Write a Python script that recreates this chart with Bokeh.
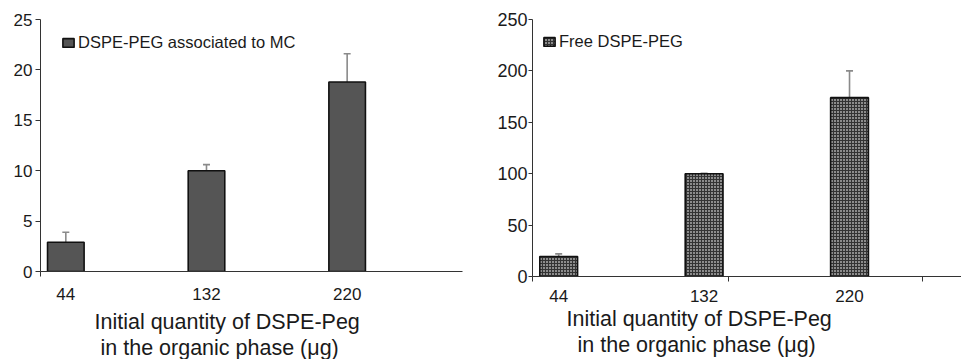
from bokeh.plotting import figure
from bokeh.models import (Range1d, FixedTicker, ColumnDataSource, Whisker, TeeHead,
                          Title, Legend, LegendItem)
from bokeh.layouts import row
from bokeh.embed import file_html
from bokeh.resources import INLINE

# ---- data ----
categories = ["44", "132", "220"]
associated = [2.9, 10.0, 18.8]
associated_err = [1.0, 0.6, 2.8]
free = [19.5, 100.0, 174.0]
free_err = [2.5, 0.5, 26.0]
left_yticks = [0, 5, 10, 15, 20, 25]
right_yticks = [0, 50, 100, 150, 200, 250]
xlabel_1 = "Initial quantity of DSPE-Peg"
xlabel_2 = "in the organic phase  (\u03bcg)"
legend_left = "DSPE-PEG associated to MC"
legend_right = "Free DSPE-PEG"

FONT = "Liberation Sans"
TXT = "#1a1a1a"
AX = "#333333"
H = 359


def make_panel(vals, errs, yticks, legend_text, width, left, right, bottom,
               x_end, minor, style, leg_loc, off1, off2, ytick_size, ystand, ytick_out,
               xstand, spacer):
    xs = list(range(len(categories)))
    p = figure(width=width, height=H, output_backend="svg", toolbar_location=None,
               x_range=Range1d(-0.18, x_end), y_range=Range1d(yticks[0], yticks[-1]),
               min_border_left=left, min_border_right=right, min_border_top=19,
               min_border_bottom=bottom, outline_line_color=None,
               background_fill_color="white", border_fill_color="white")
    try:
        p.frame_align = False
    except Exception:
        pass
    p.xgrid.visible = False
    p.ygrid.visible = False
    src = ColumnDataSource(dict(x=xs, top=vals,
                                upper=[v + e for v, e in zip(vals, errs)]))
    w = Whisker(base="x", lower="top", upper="upper", source=src,
                line_color="#8a8a8a", line_width=1.6,
                upper_head=TeeHead(size=7, line_color="#8a8a8a", line_width=1.6),
                lower_head=None)
    p.add_layout(w)
    r = p.vbar(x="x", top="top", width=0.26, bottom=0, source=src,
               line_color="#111111", line_width=1.6, **style)
    # axes
    p.yaxis.ticker = FixedTicker(ticks=yticks)
    p.yaxis.axis_line_color = AX
    p.yaxis.major_tick_line_color = AX
    p.yaxis.major_tick_out = ytick_out
    p.yaxis.major_tick_in = 0
    p.yaxis.minor_tick_line_color = None
    p.yaxis.major_label_standoff = ystand
    p.yaxis.major_label_text_font = FONT
    p.yaxis.major_label_text_font_size = ytick_size
    p.yaxis.major_label_text_color = TXT

    p.xaxis.ticker = FixedTicker(ticks=xs, minor_ticks=minor)
    p.xaxis.major_label_overrides = {i: c for i, c in zip(xs, categories)}
    p.xaxis.axis_line_color = AX
    p.xaxis.major_tick_line_color = None
    p.xaxis.major_tick_out = 0
    p.xaxis.major_tick_in = 0
    p.xaxis.minor_tick_line_color = AX
    p.xaxis.minor_tick_out = 5
    p.xaxis.minor_tick_in = 0
    p.xaxis.major_label_standoff = xstand
    p.xaxis.major_label_text_font = FONT
    p.xaxis.major_label_text_font_size = "17px"
    p.xaxis.major_label_text_color = TXT
    if spacer:
        # small spacer between the tick labels and the two-line title
        p.xaxis.axis_label = " "
        p.xaxis.axis_label_text_font_size = "1px"
        p.xaxis.axis_label_standoff = spacer

    leg = Legend(items=[LegendItem(label=legend_text, renderers=[r])],
                 location=leg_loc, padding=0, margin=0, spacing=0,
                 glyph_width=14, glyph_height=11, label_standoff=3,
                 label_text_font=FONT, label_text_font_size="16.5px",
                 label_text_color=TXT, border_line_color=None,
                 background_fill_alpha=0)
    p.add_layout(leg, "center")

    for off, t in ((off1, xlabel_1), (off2, xlabel_2)):
        p.add_layout(Title(text=t, align="left", offset=off, standoff=0,
                           text_font=FONT, text_font_size="21.5px",
                           text_font_style="normal", text_color=TXT), "below")
    return p


p1 = make_panel(associated, associated_err, left_yticks, legend_left,
                width=480, left=40, right=18, bottom=88, x_end=2.82, minor=[-0.18],
                style=dict(fill_color="#555555"),
                leg_loc=(21, 252 - 16 - 17), off1=54, off2=60,
                ytick_size="17px", ystand=3, ytick_out=5, xstand=11, spacer=1)

p2 = make_panel(free, free_err, right_yticks, legend_right,
                width=481, left=52, right=0, bottom=83, x_end=2.77,
                minor=[-0.18, 1.17, 2.5],
                style=dict(fill_color="#8c8c8c", hatch_pattern="+", hatch_color="#333333",
                           hatch_scale=3, hatch_weight=1),
                leg_loc=(10, 257 - 15 - 17), off1=34, off2=45,
                ytick_size="18px", ystand=1, ytick_out=4, xstand=8, spacer=0)

layout = row(p1, p2)
open("out.html", "w").write(file_html(layout, INLINE))
